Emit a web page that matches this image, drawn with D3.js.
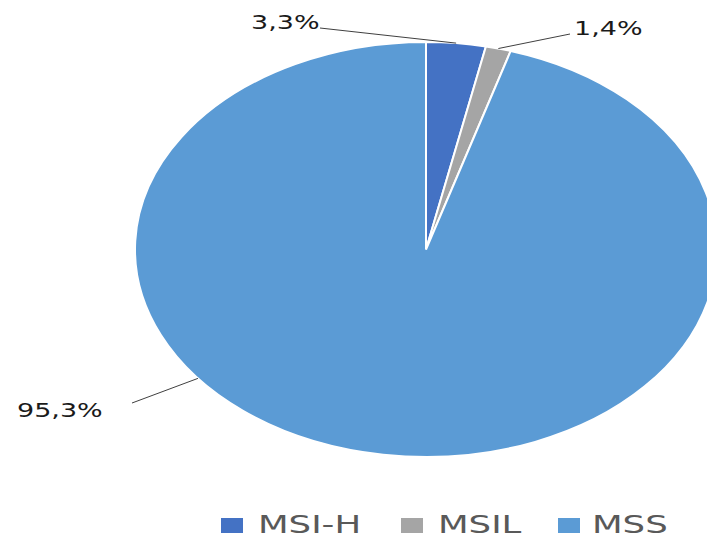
<!DOCTYPE html>
<html>
<head>
<meta charset="utf-8">
<script src="https://cdn.jsdelivr.net/npm/d3@7"></script>
<style>
  html, body { margin: 0; padding: 0; background: #fff; }
  svg { display: block; }
</style>
</head>
<body>
<svg id="chart" width="707" height="539"></svg>
<script>
const categories = ["MSI-H", "MSIL", "MSS"];
const values = [3.3, 1.4, 95.3];
const labels = ["3,3%", "1,4%", "95,3%"];
const colors = ["#4472C4", "#A5A5A5", "#5B9BD5"];

const svg = d3.select("#chart");
const cx = 426, cy = 249.5, ry = 207.5, rx = 291;
const sx = rx / ry;
const textScale = 1.42;

const pie = d3.pie().sort(null).value(d => d);
const arcs = pie(values);
const arc = d3.arc().innerRadius(0).outerRadius(ry);

const g = svg.append("g").attr("transform", `translate(${cx},${cy}) scale(${sx},1)`);
g.selectAll("path").data(arcs).join("path")
  .attr("d", arc)
  .attr("fill", (d, i) => colors[i])
  .attr("stroke", "#fff")
  .attr("stroke-width", 2)
  .attr("vector-effect", "non-scaling-stroke");

// point on ellipse edge for an angle (radians, clockwise from 12 o'clock)
function edge(a) {
  return [cx + Math.sin(a) * rx, cy - Math.cos(a) * ry];
}
const mid = d => (d.startAngle + d.endAngle) / 2;

// label layout: [text anchor x, baseline y, leader start x, leader start y, leader target angle]
const labelLayout = [
  { x: 251, y: 29, lx: 320, ly: 28, ang: mid(arcs[0]) },
  { x: 574, y: 35, lx: 570, ly: 34, ang: mid(arcs[1]) },
  { x: 17, y: 417, lx: 132, ly: 403, ang: 231.6 * Math.PI / 180 }
];

labelLayout.forEach((L, i) => {
  const [ex, ey] = edge(L.ang);
  svg.append("line")
    .attr("x1", L.lx).attr("y1", L.ly)
    .attr("x2", ex).attr("y2", ey)
    .attr("stroke", "#404040")
    .attr("stroke-width", 1);
  svg.append("text")
    .attr("transform", `translate(${L.x},${L.y}) scale(${textScale},1)`)
    .attr("font-family", "DejaVu Sans, sans-serif")
    .attr("font-size", 19)
    .attr("fill", "#1a1a1a")
    .text(labels[i]);
});

// legend
const legendItems = [
  { rx: 221, tx: 258 },
  { rx: 401, tx: 438 },
  { rx: 558, tx: 592 }
];
categories.forEach((c, i) => {
  const L = legendItems[i];
  svg.append("rect")
    .attr("x", L.rx).attr("y", 518)
    .attr("width", 22).attr("height", 15)
    .attr("fill", colors[i]);
  svg.append("text")
    .attr("transform", `translate(${L.tx},533) scale(${textScale},1)`)
    .attr("font-family", "DejaVu Sans, sans-serif")
    .attr("font-size", 25)
    .attr("fill", "#595959")
    .text(c);
});
</script>
</body>
</html>
